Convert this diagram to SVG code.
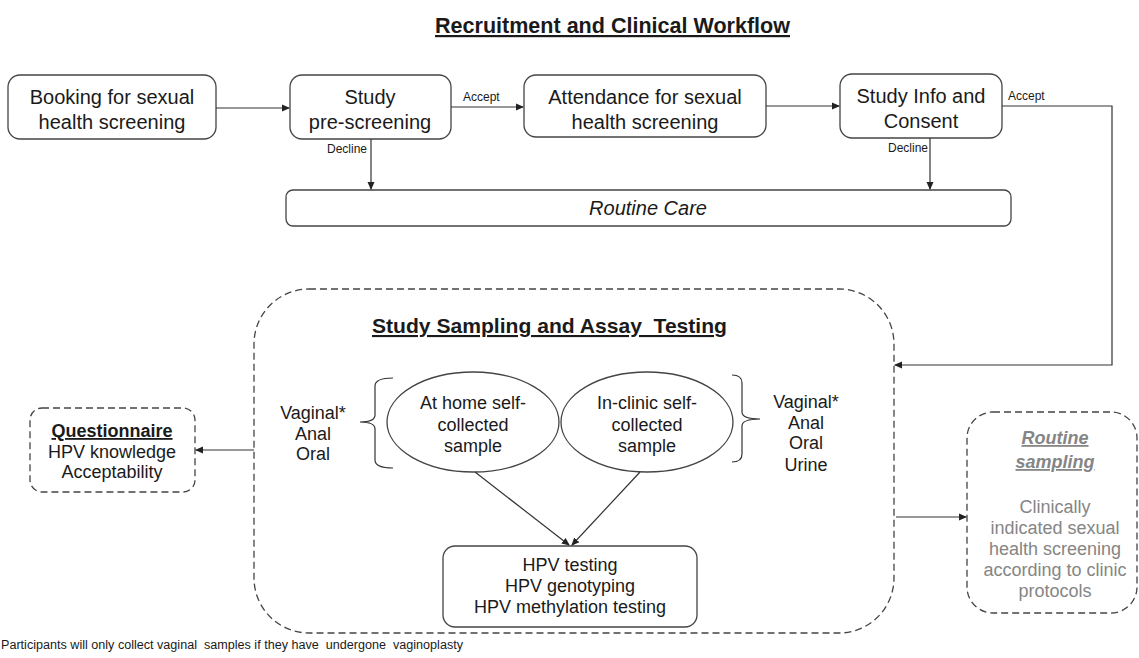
<svg xmlns="http://www.w3.org/2000/svg" width="1139" height="658" viewBox="0 0 1139 658">
<defs>
<marker id="ah" markerWidth="8" markerHeight="8" refX="7" refY="4" orient="auto" markerUnits="userSpaceOnUse">
<path d="M0,0.5 L8,4 L0,7.5 z" fill="#222"/>
</marker>
<style>
text{font-family:"Liberation Sans",Arial,sans-serif;fill:#1a1a1a}
.box{fill:#fff;stroke:#444;stroke-width:1.3}
.dash{fill:none;stroke:#444;stroke-width:1.3;stroke-dasharray:7,4}
.t20{font-size:20px;text-anchor:middle}
.t18{font-size:18px;text-anchor:middle}
.lbl{font-size:12px}
.c{fill:none;stroke:#333;stroke-width:1.2}
.ttl{font-weight:bold;text-decoration:underline}
.gray{fill:#858585}
.pre{white-space:pre}
</style>
</defs>
<rect width="1139" height="658" fill="#fff"/>

<text class="ttl" x="435" y="33" font-size="22" textLength="355" lengthAdjust="spacingAndGlyphs">Recruitment and Clinical Workflow</text>

<g id="booking"><rect class="box" x="8" y="75" width="208" height="64" rx="12"/>
<text class="t20" x="112" y="104">Booking for sexual</text><text class="t20" x="112" y="129">health screening</text></g>

<g id="prescreening"><rect class="box" x="290" y="75" width="161" height="64" rx="12"/>
<text class="t20" x="370" y="104">Study</text><text class="t20" x="370" y="129">pre-screening</text></g>

<g id="attendance"><rect class="box" x="524" y="75" width="242" height="62" rx="12"/>
<text class="t20" x="645" y="104">Attendance for sexual</text><text class="t20" x="645" y="129">health screening</text></g>

<g id="consent"><rect class="box" x="840" y="74" width="162" height="64" rx="12"/>
<text class="t20" x="921" y="103">Study Info and</text><text class="t20" x="921" y="128">Consent</text></g>

<g id="routinecare"><rect class="box" x="286" y="190" width="725" height="36" rx="7"/>
<text x="648" y="215" font-size="20" font-style="italic" text-anchor="middle">Routine Care</text></g>

<g id="studysampling"><rect class="dash" x="254" y="289" width="640" height="344" rx="55"/>
<text class="ttl pre" x="372" y="333" font-size="21" textLength="355" lengthAdjust="spacingAndGlyphs">Study Sampling and Assay  Testing</text></g>

<g id="leftsites"><text class="t18" x="313" y="419">Vaginal*</text><text class="t18" x="313" y="440">Anal</text><text class="t18" x="313" y="460">Oral</text>
<path class="c" d="M393,378 Q375,378 375,386 L375,415 Q375,422 360,422 Q375,422 375,429 L375,460 Q375,468 393,468"/></g>

<g id="athome"><ellipse class="box" cx="473" cy="422" rx="86" ry="50"/>
<text class="t18" x="473" y="409">At home self-</text><text class="t18" x="473" y="431">collected</text><text class="t18" x="473" y="452">sample</text></g>

<g id="inclinic"><ellipse class="box" cx="647" cy="422" rx="86" ry="50"/>
<text class="t18" x="647" y="409">In-clinic self-</text><text class="t18" x="647" y="431">collected</text><text class="t18" x="647" y="452">sample</text></g>

<g id="rightsites"><path class="c" d="M732,375 Q742,375 742,383 L742,412 Q742,419 760,419 Q742,419 742,426 L742,454 Q742,462 732,462"/>
<text class="t18" x="806" y="408">Vaginal*</text><text class="t18" x="806" y="429">Anal</text><text class="t18" x="806" y="449">Oral</text><text class="t18" x="806" y="471">Urine</text></g>

<g id="hpv"><rect class="box" x="443" y="546" width="254" height="81" rx="12"/>
<text class="t18" x="570" y="571">HPV testing</text><text class="t18" x="570" y="592">HPV genotyping</text><text class="t18" x="570" y="613">HPV methylation testing</text></g>

<g id="questionnaire"><rect class="dash" x="30" y="408" width="165" height="84" rx="12"/>
<text class="t18 ttl" x="112" y="437" font-size="19">Questionnaire</text><text class="t18" x="112" y="458">HPV knowledge</text><text class="t18" x="112" y="478">Acceptability</text></g>

<g id="routinesampling"><rect class="dash" x="967" y="412" width="170" height="201" rx="26"/>
<text class="t18 ttl gray" x="1055" y="444" font-size="19" font-style="italic">Routine</text><text class="t18 ttl gray" x="1055" y="468" font-size="19" font-style="italic">sampling</text>
<text class="t18 gray" x="1055" y="513">Clinically</text><text class="t18 gray" x="1055" y="534">indicated sexual</text><text class="t18 gray" x="1055" y="555">health screening</text><text class="t18 gray" x="1055" y="576">according to clinic</text><text class="t18 gray" x="1055" y="597">protocols</text></g>

<g id="connectors">
<line class="c" x1="216" y1="108" x2="289" y2="108" marker-end="url(#ah)"/>
<line class="c" x1="451" y1="107" x2="523" y2="107" marker-end="url(#ah)"/>
<line class="c" x1="766" y1="106" x2="839" y2="106" marker-end="url(#ah)"/>
<line class="c" x1="371" y1="139" x2="371" y2="189" marker-end="url(#ah)"/>
<line class="c" x1="930" y1="138" x2="930" y2="189" marker-end="url(#ah)"/>
<polyline class="c" points="1002,106 1112,106 1112,365 895,365" marker-end="url(#ah)"/>
<line class="c" x1="254" y1="450" x2="196" y2="450" marker-end="url(#ah)"/>
<line class="c" x1="896" y1="517" x2="966" y2="517" marker-end="url(#ah)"/>
<line class="c" x1="475" y1="472" x2="569" y2="545" marker-end="url(#ah)"/>
<line class="c" x1="640" y1="472" x2="572" y2="545" marker-end="url(#ah)"/>
<text class="lbl" x="463" y="101">Accept</text>
<text class="lbl" x="1008" y="100">Accept</text>
<text class="lbl" x="327" y="153">Decline</text>
<text class="lbl" x="888" y="152">Decline</text>
</g>

<text class="pre" x="1" y="649" font-size="12" textLength="462" lengthAdjust="spacingAndGlyphs">Participants will only collect vaginal  samples if they have  undergone  vaginoplasty</text>
</svg>
